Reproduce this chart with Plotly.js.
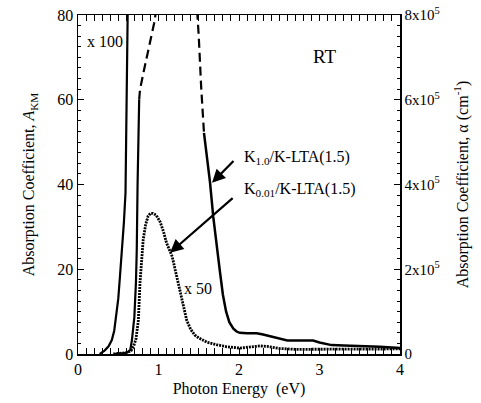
<!DOCTYPE html>
<html>
<head>
<meta charset="utf-8">
<script src="https://cdn.plot.ly/plotly-3.0.1.min.js"></script>
<style>
html,body{margin:0;padding:0;background:#fff;}
#chart text, #chart tspan { font-family: 'Liberation Serif', serif !important; }
</style>
</head>
<body>
<div id="chart" style="width:481px;height:403px;"></div>
<script>
// K0.01 magnified x100 (solid)
const x100E = [0.27, 0.33, 0.38, 0.42, 0.45, 0.46, 0.48, 0.50, 0.52, 0.55, 0.57, 0.59, 0.60, 0.61, 0.62];
const x100A = [0.0, 0.8, 1.8, 3.3, 5.5, 7.0, 9.0, 13.0, 18.0, 25.0, 31.0, 38.0, 50.0, 65.0, 85.0];

// K1.0/K-LTA(1.5) rising edge (solid)
const k10RiseE = [0.44, 0.52, 0.58, 0.63, 0.65, 0.67, 0.70, 0.72, 0.73, 0.74, 0.75, 0.76];
const k10RiseA = [0.0, 0.1, 0.2, 0.6, 1.0, 3.3, 8.7, 17.0, 24.6, 40.0, 50.0, 60.0];
// K1.0 dashed (extrapolated) rise
const k10DashRiseE = [0.76, 0.77, 0.82, 0.88, 0.945, 0.97];
const k10DashRiseA = [60.0, 62.4, 67.0, 72.0, 78.0, 81.0];
// K1.0 dashed fall
const k10DashFallE = [1.48, 1.50, 1.53, 1.565];
const k10DashFallA = [81.0, 75.0, 63.0, 52.2];
// K1.0 solid tail
const k10TailE = [1.565, 1.60, 1.64, 1.68, 1.72, 1.76, 1.80, 1.84, 1.88, 1.93, 1.97, 2.01, 2.10, 2.22, 2.30, 2.42, 2.52, 2.60, 2.72, 2.84, 2.92, 3.00, 3.08, 3.15, 3.30, 3.50, 3.75, 4.00];
const k10TailA = [52.2, 46.5, 40.5, 32.4, 25.5, 19.9, 14.0, 10.0, 7.5, 6.0, 5.3, 5.0, 4.9, 4.9, 4.6, 4.0, 3.5, 3.2, 3.2, 3.3, 3.2, 2.7, 2.3, 2.1, 2.0, 1.9, 1.7, 1.4];

// K0.01/K-LTA(1.5) x50 (dotted)
const k001E = [0.44, 0.52, 0.60, 0.66, 0.69, 0.72, 0.75, 0.77, 0.79, 0.81, 0.84, 0.87, 0.90, 0.93, 0.97, 1.02, 1.06, 1.10, 1.17, 1.23, 1.29, 1.35, 1.40, 1.45, 1.50, 1.60, 1.72, 1.85, 2.01, 2.15, 2.26, 2.35, 2.50, 2.70, 2.84, 3.05, 3.25, 3.50, 3.75, 4.00];
const k001A = [0.0, 0.1, 0.3, 0.8, 1.8, 3.5, 8.0, 16.8, 22.0, 27.0, 30.5, 32.5, 33.2, 33.2, 32.8, 31.2, 29.0, 26.2, 23.0, 18.2, 12.8, 8.0, 5.8, 4.5, 3.8, 2.8, 2.2, 1.7, 1.4, 1.6, 1.9, 1.8, 1.3, 1.1, 1.1, 1.1, 1.1, 1.1, 1.1, 1.2];

// axis ticks
const leftTicks = [0, 20, 40, 60, 80];
const rightTickVals = [0, 2e5, 4e5, 6e5, 8e5];
const rightTickText = ['0', '2x10<sup>5</sup>', '4x10<sup>5</sup>', '6x10<sup>5</sup>', '8x10<sup>5</sup>'];

const FAM = 'Liberation Serif';
const INK = '#000000';

const traces = [
  {x: x100E, y: x100A, mode: 'lines', line: {color: INK, width: 2.2}},
  {x: k10RiseE, y: k10RiseA, mode: 'lines', line: {color: INK, width: 2.2}},
  {x: k10DashRiseE, y: k10DashRiseA, mode: 'lines', line: {color: INK, width: 2.2, dash: '9px,5px'}},
  {x: k10DashFallE, y: k10DashFallA, mode: 'lines', line: {color: INK, width: 2.2, dash: '9px,5px'}},
  {x: k10TailE, y: k10TailA, mode: 'lines', line: {color: INK, width: 2.5}},
  {x: k001E, y: k001A, mode: 'lines', line: {color: INK, width: 2.8, dash: '2px,1px'}},
  {x: [0, 4], y: [0, 0], yaxis: 'y2', mode: 'lines', line: {width: 0}, hoverinfo: 'skip', showlegend: false, opacity: 0}
];

function f(size) { return {family: FAM, size: size, color: INK}; }

const layout = {
  width: 481, height: 403,
  margin: {l: 78, r: 81, t: 15, b: 49},
  paper_bgcolor: '#ffffff', plot_bgcolor: '#ffffff',
  showlegend: false,
  font: f(16),
  xaxis: {
    range: [0, 4], dtick: 1, tick0: 0,
    showgrid: false, zeroline: false,
    showline: true, linecolor: INK, linewidth: 1.5,
    mirror: 'allticks', ticks: 'inside', ticklen: 6, tickwidth: 1, tickcolor: INK,
    minor: {dtick: 0.1, ticks: 'inside', ticklen: 3, tickcolor: INK, showgrid: false},
    tickfont: f(16),
    title: {text: 'Photon Energy  (eV)', font: f(16), standoff: 6}
  },
  yaxis: {
    range: [0, 80], tickvals: leftTicks,
    showgrid: false, zeroline: false,
    showline: true, linecolor: INK, linewidth: 1.5,
    ticks: 'inside', ticklen: 6, tickwidth: 1, tickcolor: INK,
    minor: {dtick: 2.5, ticks: 'inside', ticklen: 3, tickcolor: INK, showgrid: false},
    tickfont: f(16),
    title: {text: 'Absorption Coefficient, <i>A</i><sub>KM</sub>', font: f(16), standoff: 18}
  },
  yaxis2: {
    overlaying: 'y', side: 'right', range: [0, 8e5],
    tickvals: rightTickVals, ticktext: rightTickText,
    showgrid: false, zeroline: false,
    showline: true, linecolor: INK, linewidth: 1.5,
    ticks: 'inside', ticklen: 6, tickwidth: 1, tickcolor: INK,
    minor: {dtick: 25000, ticks: 'inside', ticklen: 3, tickcolor: INK, showgrid: false},
    tickfont: f(15),
    title: {text: 'Absorption Coefficient, α (cm<sup>-1</sup>)', font: f(16), standoff: 18}
  },
  annotations: [
    {x: 0.087, y: 73.8, xref: 'x', yref: 'y', text: 'x 100', showarrow: false, xanchor: 'left', yanchor: 'middle', font: f(16)},
    {x: 3.07, y: 70.2, xref: 'x', yref: 'y', text: 'RT', showarrow: false, xanchor: 'center', yanchor: 'middle', font: f(19)},
    {x: 2.04, y: 46.3, xref: 'x', yref: 'y', text: 'K<sub>1.0</sub>/K-LTA(1.5)', showarrow: false, xanchor: 'left', yanchor: 'middle', font: f(16)},
    {x: 2.04, y: 38.8, xref: 'x', yref: 'y', text: 'K<sub>0.01</sub>/K-LTA(1.5)', showarrow: false, xanchor: 'left', yanchor: 'middle', font: f(16)},
    {x: 1.29, y: 15.4, xref: 'x', yref: 'y', text: 'x 50', showarrow: false, xanchor: 'left', yanchor: 'middle', font: f(16)},
    {x: 1.665, y: 40.4, ax: 1.95, ay: 45.9, xref: 'x', yref: 'y', axref: 'x', ayref: 'y', text: '', showarrow: true, arrowhead: 2, arrowsize: 1.2, arrowwidth: 2.2, arrowcolor: INK},
    {x: 1.143, y: 23.9, ax: 1.94, ay: 37.1, xref: 'x', yref: 'y', axref: 'x', ayref: 'y', text: '', showarrow: true, arrowhead: 2, arrowsize: 1.2, arrowwidth: 2.2, arrowcolor: INK}
  ]
};

Plotly.newPlot('chart', traces, layout, {displayModeBar: false, staticPlot: true});
</script>
</body>
</html>
